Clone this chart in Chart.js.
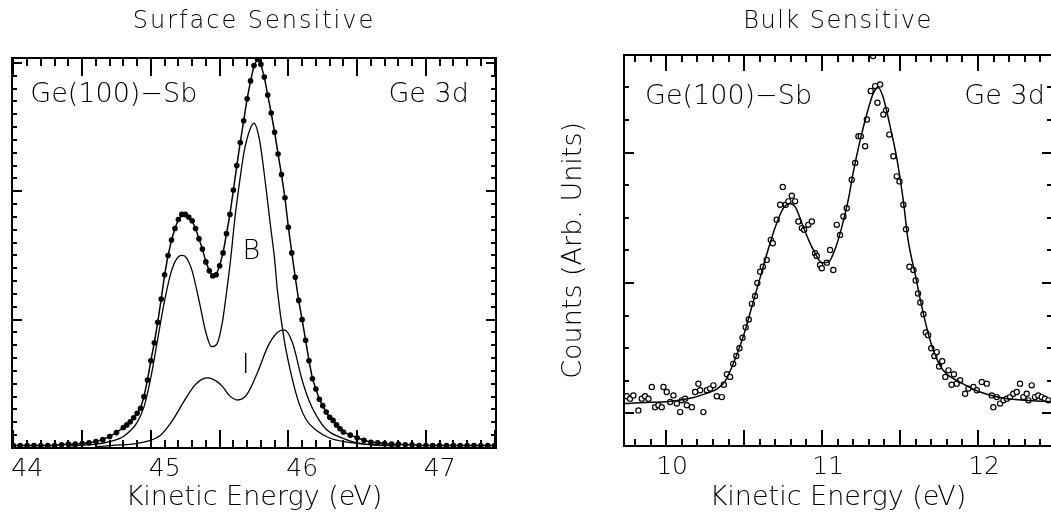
<!DOCTYPE html>
<html>
<head>
<meta charset="utf-8">
<script src="https://cdn.jsdelivr.net/npm/chart.js@4.4.1/dist/chart.umd.min.js"></script>
<style>
  html, body { margin: 0; padding: 0; background: #fff; overflow: hidden; width: 1051px; height: 518px; }
  .panel { position: absolute; top: 0; width: 520px; height: 518px; }
  #surface { left: 0; }
  #bulk { left: 540px; }
</style>
</head>
<body>
<div class="panel" id="surface"><canvas id="chart-surface"></canvas></div>
<div class="panel" id="bulk"><canvas id="chart-bulk"></canvas></div>
<script>
// ---- surface sensitive panel ----
var surfaceEnergy = [43.90, 43.95, 44.00, 44.05, 44.10, 44.15, 44.20, 44.25, 44.30, 44.35, 44.40, 44.45, 44.50, 44.55, 44.60, 44.65,
  44.700, 44.725, 44.750, 44.775, 44.800, 44.825, 44.850, 44.875, 44.900, 44.925, 44.950, 44.975, 45.000,
  45.025, 45.050, 45.075, 45.100, 45.125, 45.150, 45.175, 45.200, 45.225, 45.250, 45.275, 45.300, 45.325, 45.350,
  45.375, 45.400, 45.425, 45.450, 45.475, 45.500, 45.525, 45.550, 45.575, 45.600, 45.625, 45.650, 45.675, 45.700,
  45.725, 45.750, 45.775, 45.800, 45.825, 45.850, 45.875, 45.900, 45.925, 45.950, 45.975, 46.000,
  46.025, 46.050, 46.075, 46.100, 46.125, 46.150, 46.175, 46.200, 46.225, 46.250, 46.275, 46.300,
  46.35, 46.40, 46.45, 46.50, 46.55, 46.60, 46.65, 46.70, 46.75, 46.80, 46.85, 46.90, 46.95, 47.00, 47.05,
  47.10, 47.15, 47.20, 47.25, 47.30, 47.35, 47.40];
var surfaceCounts = [0.02, 0.02, 0.02, 0.02, 0.02, 0.02, 0.02, 0.025, 0.03, 0.03, 0.035, 0.04, 0.05, 0.065, 0.09, 0.12,
  0.16, 0.18, 0.205, 0.235, 0.27, 0.31, 0.40, 0.53, 0.68, 0.82, 0.98, 1.16, 1.35,
  1.50, 1.62, 1.71, 1.78, 1.82, 1.82, 1.80, 1.77, 1.71, 1.63, 1.55, 1.45, 1.38, 1.34,
  1.35, 1.42, 1.52, 1.67, 1.82, 2.01, 2.20, 2.38, 2.55, 2.72, 2.86, 2.98, 3.03, 2.99,
  2.89, 2.75, 2.61, 2.46, 2.29, 2.13, 1.95, 1.72, 1.52, 1.33, 1.15, 1.00,
  0.84, 0.68, 0.54, 0.46, 0.38, 0.33, 0.28, 0.24, 0.215, 0.18, 0.15, 0.125,
  0.10, 0.08, 0.06, 0.045, 0.04, 0.035, 0.03, 0.03, 0.025, 0.025, 0.02, 0.02, 0.02, 0.02, 0.02,
  0.02, 0.02, 0.02, 0.02, 0.02, 0.02, 0.02];

// bulk doublet component "B"
var compBEnergy = [44.30, 44.50, 44.60, 44.70, 44.80, 44.85, 44.90, 44.95, 45.00, 45.05, 45.10, 45.13, 45.16, 45.20,
  45.25, 45.30, 45.34, 45.38, 45.42, 45.45, 45.48, 45.51, 45.55, 45.58, 45.62, 45.65, 45.69, 45.73, 45.77, 45.80,
  45.82, 45.87, 45.93, 45.98, 46.03, 46.10, 46.20, 46.32, 46.50, 46.70];
var compBCounts = [0.015, 0.03, 0.05, 0.09, 0.20, 0.32, 0.55, 0.85, 1.15, 1.38, 1.49, 1.50, 1.48, 1.38,
  1.15, 0.90, 0.79, 0.81, 0.98, 1.21, 1.47, 1.78, 2.11, 2.32, 2.48, 2.53, 2.40, 2.09, 1.73, 1.47,
  1.23, 0.84, 0.53, 0.34, 0.22, 0.14, 0.078, 0.047, 0.025, 0.015];

// interface component "I"
var compIEnergy = [44.50, 44.62, 44.82, 44.97, 45.06, 45.15, 45.22, 45.27, 45.32, 45.37, 45.42, 45.47, 45.53,
  45.60, 45.68, 45.75, 45.82, 45.87, 45.93, 46.00, 46.05, 46.11, 46.18, 46.27, 46.40, 46.60];
var compICounts = [0.01, 0.02, 0.04, 0.10, 0.22, 0.38, 0.49, 0.535, 0.546, 0.525, 0.48, 0.41, 0.374,
  0.42, 0.60, 0.79, 0.90, 0.92, 0.82, 0.53, 0.37, 0.24, 0.14, 0.086, 0.04, 0.02];

var surfaceTickLabels = [44, 45, 46, 47];

// ---- bulk sensitive panel ----
var bulkEnergy = [9.748, 9.769, 9.790, 9.822, 9.844, 9.865, 9.887, 9.908, 9.929, 9.951, 9.972, 9.983, 10.004, 10.026,
  10.047, 10.069, 10.090, 10.101, 10.122, 10.133, 10.165, 10.186, 10.207, 10.218, 10.239, 10.261, 10.282, 10.303,
  10.325, 10.357, 10.37, 10.39, 10.41, 10.43, 10.45, 10.47, 10.49, 10.51, 10.53, 10.55, 10.57, 10.585,
  10.603, 10.620, 10.645, 10.671, 10.684, 10.709, 10.731, 10.748, 10.767, 10.784, 10.806, 10.827, 10.848, 10.870,
  10.885, 10.912, 10.934, 10.955, 10.966, 10.987, 10.998, 11.030, 11.051, 11.072, 11.094, 11.115, 11.137, 11.158,
  11.190, 11.212, 11.233, 11.248, 11.276, 11.287, 11.312, 11.327, 11.340, 11.355, 11.372, 11.393, 11.410, 11.431,
  11.457, 11.479, 11.496, 11.521, 11.538, 11.560, 11.586, 11.60, 11.615, 11.63, 11.65, 11.665, 11.68, 11.70,
  11.72, 11.735, 11.75, 11.77, 11.79, 11.81, 11.83, 11.845, 11.863, 11.885, 11.917, 11.938, 11.970, 11.992,
  12.024, 12.056, 12.088, 12.098, 12.120, 12.141, 12.163, 12.184, 12.205, 12.226, 12.248, 12.269, 12.291, 12.312,
  12.323, 12.344, 12.365, 12.386, 12.408, 12.429, 12.451];
var bulkCounts = [0.131, 0.113, 0.138, 0.023, 0.113, 0.131, 0.113, 0.202, 0.048, 0.062, 0.048, 0.202, 0.164, 0.087,
  0.138, 0.075, 0.010, 0.10, 0.113, 0.062, 0.048, 0.164, 0.228, 0.177, 0.010, 0.177, 0.190, 0.215,
  0.131, 0.125, 0.22, 0.30, 0.28, 0.38, 0.44, 0.50, 0.58, 0.66, 0.72, 0.84, 0.90, 1.00,
  1.087, 1.125, 1.177, 1.331, 1.305, 1.485, 1.60, 1.736, 1.60, 1.626, 1.669, 1.626, 1.472, 1.421,
  1.408, 1.446, 1.472, 1.228, 1.208, 1.138, 1.113, 1.156, 1.254, 1.10, 1.446, 1.369, 1.51, 1.574,
  1.792, 1.921, 2.126, 2.126, 2.049, 2.254, 2.472, 2.74, 2.51, 2.382, 2.523, 2.292, 2.326, 2.138,
  1.972, 1.818, 1.779, 1.60, 1.413, 1.125, 1.10, 1.02, 0.92, 0.85, 0.76, 0.62, 0.60, 0.50,
  0.44, 0.47, 0.36, 0.40, 0.28, 0.33, 0.22, 0.30, 0.228, 0.254, 0.151, 0.19, 0.202, 0.177,
  0.241, 0.228, 0.138, 0.048, 0.125, 0.075, 0.10, 0.113, 0.125, 0.151, 0.164, 0.228, 0.125, 0.151,
  0.10, 0.215, 0.125, 0.138, 0.125, 0.113, 0.10];

var bulkFitEnergy = [9.73, 9.80, 9.90, 10.00, 10.10, 10.17, 10.25, 10.33, 10.38, 10.44, 10.50, 10.55, 10.60, 10.65,
  10.70, 10.75, 10.79, 10.83, 10.87, 10.91, 10.95, 11.00, 11.04, 11.08, 11.12, 11.17, 11.20, 11.245, 11.29, 11.33,
  11.36, 11.39, 11.44, 11.48, 11.52, 11.55, 11.60, 11.63, 11.69, 11.75, 11.80, 11.87, 12.00, 12.15, 12.30, 12.47];
var bulkFitCounts = [0.075, 0.08, 0.085, 0.09, 0.105, 0.12, 0.15, 0.19, 0.25, 0.41, 0.61, 0.82, 1.03, 1.24,
  1.43, 1.57, 1.61, 1.58, 1.46, 1.34, 1.24, 1.155, 1.16, 1.25, 1.40, 1.65, 1.85, 2.10, 2.31, 2.46,
  2.50, 2.43, 2.18, 1.95, 1.64, 1.34, 1.05, 0.87, 0.57, 0.38, 0.30, 0.25, 0.17, 0.12, 0.10, 0.09];

var bulkTickLabels = [10, 11, 12];

// tick-mark layout per panel
var tickSpecs = {
  'chart-surface': { xFrom: 43.9, xTo: 47.4, xStep: 0.1, xMajorBase: 43.9, xMajorStep: 0.5, xLong: 18, xShort: 8,
                     yFrom: 0, yTo: 3, yStep: 0.1, yLong: 10, yShort: 5 },
  'chart-bulk': { xFrom: 9.8, xTo: 12.4, xStep: 0.1, xMajorBase: 10, xMajorStep: 0.5, xLong: 16, xShort: 7,
                  yFrom: -0.25, yTo: 2.75, yStep: 0.25, yLong: 10, yShort: 5 }
};

var FONT = "'DejaVu Sans', sans-serif";

function pts(xs, ys) {
  return xs.map(function (x, i) { return { x: x, y: ys[i] }; });
}

function steps(start, stop, step) {
  var out = [];
  for (var k = 0; start + k * step <= stop + 1e-9; k++) out.push(Math.round((start + k * step) * 1000) / 1000);
  return out;
}

function onGrid(v, base, step) {
  var k = (v - base) / step;
  return Math.abs(k - Math.round(k)) < 1e-6;
}

// frame, then inward tick marks on all four sides (2 px wide, pixel aligned)
var frameTicks = {
  id: 'frameTicks',
  afterDraw: function (chart) {
    var o = tickSpecs[chart.canvas.id];
    var ctx = chart.ctx, a = chart.chartArea, x = chart.scales.x, y = chart.scales.y;
    var top = Math.round(a.top), bottom = Math.round(a.bottom), left = Math.round(a.left), right = Math.round(a.right);
    ctx.save();
    ctx.strokeStyle = '#000';
    ctx.lineWidth = 2;
    ctx.strokeRect(left, top, right - left, bottom - top);
    ctx.fillStyle = '#000';
    steps(o.yFrom, o.yTo, o.yStep).forEach(function (v) {
      var py = Math.round(y.getPixelForValue(v));
      var ly = onGrid(v, 0, 1) ? o.yLong : o.yShort;
      ctx.fillRect(left, py - 1, ly, 2);
      ctx.fillRect(right - ly, py - 1, ly, 2);
    });
    steps(o.xFrom, o.xTo, o.xStep).forEach(function (v) {
      var px = Math.round(x.getPixelForValue(v));
      var lx = onGrid(v, o.xMajorBase, o.xMajorStep) ? o.xLong : o.xShort;
      ctx.fillRect(px - 1, bottom - lx, 2, lx);
      ctx.fillRect(px - 1, top, 2, lx);
    });
    ctx.restore();
  }
};

// text inside the plot, placed in data units
var notes = {
  id: 'notes',
  afterDatasetsDraw: function (chart, args, o) {
    var ctx = chart.ctx, x = chart.scales.x, y = chart.scales.y;
    ctx.save();
    ctx.fillStyle = '#000';
    ctx.font = o.weight + ' ' + o.size + 'px ' + FONT;
    ctx.textAlign = 'center';
    ctx.textBaseline = 'middle';
    o.items.forEach(function (n) {
      ctx.fillText(n.text, x.getPixelForValue(n.x), y.getPixelForValue(n.y));
    });
    ctx.restore();
  }
};

// the plotter font of the original is wide; space the title letters a little
var titleSpacing = {
  id: 'titleSpacing',
  afterLayout: function (chart, args, o) {
    var t = chart.titleBlock;
    if (t && !t._spaced) {
      var draw = t.draw.bind(t);
      t.draw = function (area) {
        chart.ctx.save();
        chart.ctx.letterSpacing = o.px + 'px';
        draw(area);
        chart.ctx.restore();
      };
      t._spaced = true;
    }
  }
};

var tickFont = { family: FONT, size: 25, weight: '200' };
var axisFont = { family: FONT, size: 27, weight: '200' };
var titleFont = { family: FONT, size: 24, weight: '200' };

new Chart(document.getElementById('chart-surface').getContext('2d'), {
  type: 'line',
  data: {
    datasets: [{
      label: 'Data',
      data: pts(surfaceEnergy, surfaceCounts),
      borderColor: '#000', borderWidth: 1.5,
      pointRadius: 2.8, pointBackgroundColor: '#000', pointBorderWidth: 0,
      tension: 0
    }, {
      label: 'B',
      data: pts(compBEnergy, compBCounts),
      borderColor: '#000', borderWidth: 1.3, pointRadius: 0,
      cubicInterpolationMode: 'monotone'
    }, {
      label: 'I',
      data: pts(compIEnergy, compICounts),
      borderColor: '#000', borderWidth: 1.3, pointRadius: 0,
      cubicInterpolationMode: 'monotone'
    }]
  },
  options: {
    responsive: true, maintainAspectRatio: false, animation: false,
    layout: { padding: { left: 12, right: 24 } },
    plugins: {
      legend: { display: false },
      tooltip: { enabled: false },
      title: { display: true, text: 'Surface Sensitive', fullSize: false, color: '#000', font: titleFont, padding: { top: 7, bottom: 22 } },
      titleSpacing: { px: 2 },
      notes: {
        size: 27, weight: '200',
        items: [
          { text: 'Ge(100)\u2212Sb', x: 44.63, y: 2.75 },
          { text: 'Ge 3d', x: 46.92, y: 2.75 },
          { text: 'B', x: 45.63, y: 1.53 },
          { text: 'I', x: 45.59, y: 0.64 }
        ]
      }
    },
    scales: {
      x: {
        type: 'linear', min: 43.89, max: 47.41,
        grid: { display: false, drawTicks: false },
        border: { display: false },
        afterBuildTicks: function (s) { s.ticks = surfaceTickLabels.map(function (v) { return { value: v }; }); },
        afterFit: function (s) { s.height = 70; },
        ticks: { color: '#000', font: tickFont, padding: 6, maxRotation: 0, autoSkip: false },
        title: { display: true, text: 'Kinetic Energy (eV)', color: '#000', font: axisFont, padding: { top: 0, bottom: 4 } }
      },
      y: { display: false, min: 0, max: 3.04 }
    }
  },
  plugins: [titleSpacing, frameTicks, notes]
});

new Chart(document.getElementById('chart-bulk').getContext('2d'), {
  type: 'line',
  data: {
    datasets: [{
      label: 'Fit',
      data: pts(bulkFitEnergy, bulkFitCounts),
      borderColor: '#000', borderWidth: 1.5, pointRadius: 0,
      cubicInterpolationMode: 'monotone'
    }, {
      type: 'scatter',
      label: 'Data',
      data: pts(bulkEnergy, bulkCounts),
      showLine: false,
      pointRadius: 2.6, pointBorderWidth: 1.2,
      pointBackgroundColor: '#fff', pointBorderColor: '#000'
    }]
  },
  options: {
    responsive: true, maintainAspectRatio: false, animation: false,
    layout: { padding: { right: 8 } },
    plugins: {
      legend: { display: false },
      tooltip: { enabled: false },
      title: { display: true, text: 'Bulk Sensitive', fullSize: false, color: '#000', font: titleFont, padding: { top: 7, bottom: 19 } },
      titleSpacing: { px: 1.5 },
      notes: {
        size: 27, weight: '200',
        items: [
          { text: 'Ge(100)\u2212Sb', x: 10.40, y: 2.43 },
          { text: 'Ge 3d', x: 12.17, y: 2.43 }
        ]
      }
    },
    scales: {
      x: {
        type: 'linear', min: 9.73, max: 12.474,
        grid: { display: false, drawTicks: false },
        border: { display: false },
        afterBuildTicks: function (s) { s.ticks = bulkTickLabels.map(function (v) { return { value: v }; }); },
        afterFit: function (s) { s.height = 72; },
        ticks: { color: '#000', font: tickFont, padding: 6, maxRotation: 0, autoSkip: false, labelOffset: 6 },
        title: { display: true, text: 'Kinetic Energy (eV)', color: '#000', font: axisFont, padding: { top: 0, bottom: 4 } }
      },
      y: {
        min: -0.25, max: 2.75,
        grid: { display: false, drawTicks: false },
        border: { display: false },
        ticks: { display: false },
        afterFit: function (s) { s.width = 84; },
        title: { display: true, text: 'Counts (Arb. Units)', color: '#000', font: axisFont, padding: { top: 18, bottom: 0 } }
      }
    }
  },
  plugins: [titleSpacing, frameTicks, notes]
});
</script>
</body>
</html>
